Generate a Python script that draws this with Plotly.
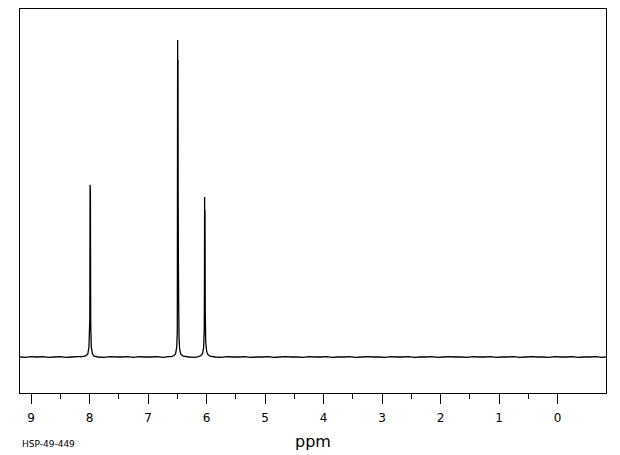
import plotly.graph_objects as go

# Spectrum trace: chemical shift (ppm) and relative intensity
ppm = [9.19, 9.10, 9.00, 8.90, 8.80, 8.70, 8.60, 8.50, 8.40, 8.30, 8.20, 8.12,
       8.06, 8.03, 8.01, 7.995, 7.99, 7.985, 7.98, 7.97, 7.95, 7.92,
       7.85, 7.75, 7.65, 7.55, 7.45, 7.35, 7.25, 7.15, 7.05, 6.95, 6.85, 6.75, 6.65, 6.60,
       6.56, 6.53, 6.51, 6.50, 6.494, 6.491, 6.488, 6.485, 6.481, 6.477, 6.47, 6.46, 6.44, 6.40,
       6.30, 6.20, 6.14,
       6.10, 6.07, 6.05, 6.04, 6.036, 6.033, 6.030, 6.027, 6.022, 6.015, 6.00, 5.98, 5.94,
       5.85, 5.75, 5.65, 5.55, 5.45, 5.35, 5.25, 5.15, 5.05, 4.95, 4.85, 4.75, 4.65, 4.55,
       4.45, 4.35, 4.25, 4.15, 4.05, 3.95, 3.85, 3.75, 3.65, 3.55, 3.45, 3.35, 3.25, 3.15,
       3.05, 2.95, 2.85, 2.75, 2.65, 2.55, 2.45, 2.35, 2.25, 2.15, 2.05, 1.95, 1.85, 1.75,
       1.65, 1.55, 1.45, 1.35, 1.25, 1.15, 1.05, 0.95, 0.85, 0.75, 0.65, 0.55, 0.45, 0.35,
       0.25, 0.15, 0.05, -0.05, -0.15, -0.25, -0.35, -0.45, -0.55, -0.65, -0.75, -0.826]
intensity = [0.0, -0.1, 0.1, 0.0, 0.1, -0.1, 0.0, 0.1, -0.1, 0.0, 0.1, 0.1,
             0.4, 0.9, 3.0, 12.0, 54.3, 52.0, 11.0, 3.2, 1.0, 0.3,
             0.0, -0.1, 0.1, 0.0, 0.0, 0.1, -0.1, 0.1, 0.0, 0.0, 0.1, -0.1, 0.1, 0.1,
             0.4, 1.0, 3.0, 8.0, 100.0, 45.0, 93.7, 50.2, 30.0, 18.0, 6.0, 2.5, 0.9, 0.3,
             0.0, -0.1, 0.1,
             0.4, 1.0, 3.0, 8.0, 20.0, 50.5, 30.0, 46.4, 14.0, 5.0, 2.0, 0.8, 0.3,
             0.0, -0.1, 0.1, 0.0, 0.0, 0.1, -0.1, 0.0, 0.0, 0.1, -0.1, 0.0, 0.1, 0.0,
             0.0, -0.1, 0.1, 0.0, 0.0, 0.1, -0.1, 0.0, 0.0, 0.1, -0.1, 0.0, 0.1, 0.0,
             0.0, -0.1, 0.1, 0.0, 0.0, 0.1, -0.1, 0.0, 0.0, 0.1, -0.1, 0.0, 0.1, 0.0,
             0.0, -0.1, 0.1, 0.0, 0.0, 0.1, -0.1, 0.0, 0.0, 0.1, -0.1, 0.0, 0.1, 0.0,
             0.0, -0.1, 0.1, 0.0, 0.0, 0.1, -0.1, 0.0, 0.0, 0.1, -0.1, 0.0]

tick_vals = [9, 8, 7, 6, 5, 4, 3, 2, 1, 0]
tick_text = ["9", "8", "7", "6", "5", "4", "3", "2", "1", "0"]
minor_vals = [8.5, 7.5, 6.5, 5.5, 4.5, 3.5, 2.5, 1.5, 0.5]
x_title = "ppm"
sample_id = "HSP-49-449"

fig = go.Figure()
fig.add_trace(go.Scatter(x=ppm, y=intensity, mode="lines",
                         line=dict(color="black", width=1.3, simplify=False),
                         hoverinfo="skip", showlegend=False))

# the page body has an 8px margin, so the figure is sized and offset to compensate
fig.update_layout(
    width=612, height=447,
    margin=dict(l=12, r=14, t=1, b=62),
    paper_bgcolor="white", plot_bgcolor="white",
    font=dict(family="DejaVu Sans", color="black"),
    xaxis=dict(
        range=[9.188, -0.826], showgrid=False, zeroline=False,
        showline=True, linecolor="black", linewidth=1, mirror=True,
        tickmode="array", tickvals=tick_vals, ticktext=tick_text,
        ticks="outside", ticklen=10, tickwidth=1, tickcolor="black",
        tickfont=dict(size=12, family="DejaVu Sans"),
        ticklabelstandoff=4,
        minor=dict(tickmode="array", tickvals=minor_vals, ticks="outside",
                   ticklen=5, tickwidth=1, tickcolor="black", showgrid=False),
        title=dict(text=x_title, font=dict(size=16), standoff=11),
    ),
    yaxis=dict(
        range=[-11.36, 109.8], showgrid=False, zeroline=False,
        showline=True, linecolor="black", linewidth=1, mirror=True,
        showticklabels=False, ticks="",
    ),
)

fig.add_annotation(text=sample_id, xref="paper", yref="paper",
                   x=0.0, y=-0.133, xanchor="left", yanchor="middle",
                   showarrow=False, font=dict(size=9, family="DejaVu Sans"))

fig.write_html("out.html")
